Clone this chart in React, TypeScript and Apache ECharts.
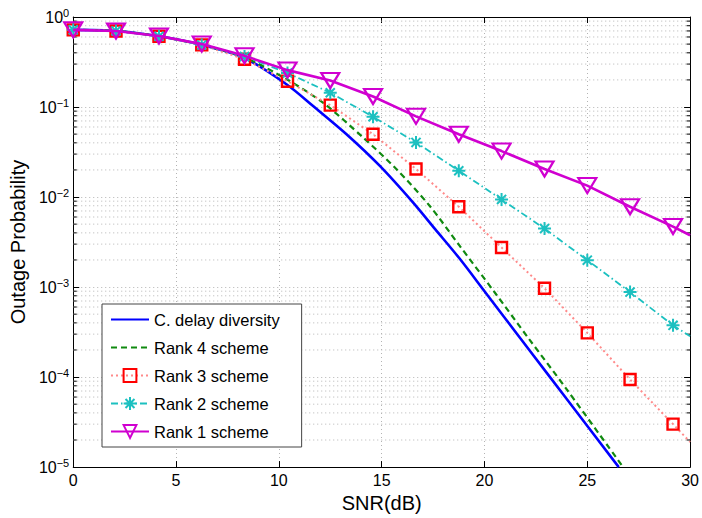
import React, { useEffect, useRef } from "react";
import * as echarts from "echarts";

// SNR points (dB) where the rank schemes are evaluated / marked
const snrMarks = [0, 2.08, 4.17, 6.25, 8.33, 10.42, 12.5, 14.58, 16.67, 18.75, 20.83, 22.92, 25, 27.08, 29.17];
const snrEnd = 30;

const rank1 = [0.72, 0.7, 0.615, 0.5, 0.37, 0.257, 0.197, 0.131, 0.0788, 0.0499, 0.0324, 0.0205, 0.0134, 0.0078, 0.0047];
const rank1End = 0.00376;
const rank2 = [0.72, 0.7, 0.61, 0.49, 0.365, 0.239, 0.144, 0.078, 0.0404, 0.0196, 0.0094, 0.00446, 0.00199, 0.00088, 0.000376];
const rank2End = 0.000284;
const rank3 = [0.72, 0.7, 0.61, 0.49, 0.34, 0.193, 0.105, 0.0499, 0.0205, 0.0078, 0.00275, 0.00097, 0.00031, 0.000094, 0.00003];
const rank3End = 0.000019;

// Cyclic delay diversity curve
const cddSnr = [0, 2.08, 4.17, 6.25, 8.33, 10.4, 11.68, 13.29, 14.9, 16.51, 17.6, 18.77, 20, 22.15, 24, 26.53];
const cddP = [0.72, 0.7, 0.61, 0.49, 0.35, 0.177, 0.102, 0.0499, 0.0223, 0.00878, 0.0044, 0.0021, 0.0009, 0.000204, 0.000057, 0.00001];

// Rank 4 scheme curve
const rank4Snr = [0, 2.08, 4.17, 6.25, 8.33, 10.4, 12.16, 14.1, 15.71, 17.32, 18.77, 20.5, 22.15, 24, 26.74];
const rank4P = [0.72, 0.7, 0.61, 0.49, 0.355, 0.202, 0.111, 0.0458, 0.0205, 0.00805, 0.00292, 0.00087, 0.000268, 0.000073, 0.00001];

const xTicks = [0, 5, 10, 15, 20, 25, 30];
const decades = [-5, -4, -3, -2, -1, 0];
const minorMantissas = [2, 3, 4, 5, 6, 7, 8, 9];

const FONT = "Liberation Sans, Arial, Helvetica, sans-serif";
const GRID_COLOR = "#b4b4b4";

const pairs = (xs: number[], ys: number[]) => xs.map((x, i) => [x, ys[i]]);

const withTail = (ys: number[], tail: number) => [
  ...pairs(snrMarks, ys),
  { value: [snrEnd, tail], symbol: "none" },
];

const minorValues: number[] = [];
decades.slice(0, -1).forEach((d) => {
  minorMantissas.forEach((m) => minorValues.push(m * Math.pow(10, d)));
});

const starPath = "path://M5,0L5,10M0,5L10,5M1.5,1.5L8.5,8.5M1.5,8.5L8.5,1.5";

export default function App() {
  const ref = useRef<HTMLDivElement>(null);

  useEffect(() => {
    if (!ref.current) return;
    const chart = echarts.init(ref.current, null, { renderer: "svg" });

    const yFormatter = (v: number) => {
      const e = Math.round(Math.log10(v));
      return `{b|10}{s|${e === 0 ? "0" : "\u2212" + -e}}`;
    };

    const logAxisBase = {
      type: "log" as const,
      logBase: 10,
      min: Math.pow(10, decades[0]),
      max: Math.pow(10, decades[decades.length - 1]),
      axisLine: { show: true, onZero: false, lineStyle: { color: "#000", width: 1 } },
      axisTick: { show: true, inside: true, length: 6, lineStyle: { color: "#000" } },
      minorTick: { show: false },
    };

    chart.setOption({
      animation: false,
      backgroundColor: "#fff",
      grid: { left: 72, right: 10, top: 17, bottom: 48, containLabel: false },
      xAxis: [
        {
          type: "value",
          min: xTicks[0],
          max: xTicks[xTicks.length - 1],
          interval: 5,
          name: "SNR(dB)",
          nameLocation: "middle",
          nameGap: 21,
          nameTextStyle: { fontFamily: FONT, fontSize: 20, color: "#000" },
          axisLine: { show: true, onZero: false, lineStyle: { color: "#000" } },
          axisTick: { show: true, inside: true, length: 6, lineStyle: { color: "#000" } },
          axisLabel: { fontFamily: FONT, fontSize: 16, color: "#000", margin: 5 },
          splitLine: { show: true, lineStyle: { color: GRID_COLOR, type: [1, 3], width: 1 } },
        },
        {
          type: "value",
          position: "top",
          min: xTicks[0],
          max: xTicks[xTicks.length - 1],
          interval: 5,
          axisLine: { show: true, onZero: false, lineStyle: { color: "#000" } },
          axisTick: { show: true, inside: true, length: 6, lineStyle: { color: "#000" } },
          axisLabel: { show: false },
          splitLine: { show: false },
        },
      ],
      yAxis: [
        {
          ...logAxisBase,
          position: "left",
          name: "Outage Probability",
          nameLocation: "middle",
          nameGap: 38,
          nameTextStyle: { fontFamily: FONT, fontSize: 20, color: "#000" },
          axisLabel: {
            formatter: yFormatter,
            margin: 4,
            rich: {
              b: { fontFamily: FONT, fontSize: 16, color: "#000" },
              s: { fontFamily: FONT, fontSize: 11, color: "#000", padding: [0, 0, 9, 0] },
            },
          },
          splitLine: { show: true, lineStyle: { color: GRID_COLOR, type: [1, 3], width: 1 } },
        },
        {
          ...logAxisBase,
          position: "right",
          axisLabel: { show: false },
          splitLine: { show: false },
        },
      ],
      legend: {
        orient: "vertical",
        left: 102,
        top: 304,
        padding: [7, 22, 7, 8],
        itemGap: 11,
        itemWidth: 38,
        itemHeight: 16,
        backgroundColor: "#fff",
        borderColor: "#444",
        borderWidth: 1,
        borderRadius: 0,
        textStyle: { fontFamily: FONT, fontSize: 16.5, color: "#000", padding: [0, 0, 0, 0] },
        data: [
          { name: "C. delay diversity", itemStyle: { opacity: 0 } },
          { name: "Rank 4 scheme", itemStyle: { opacity: 0 } },
          { name: "Rank 3 scheme" },
          { name: "Rank 2 scheme" },
          { name: "Rank 1 scheme" },
        ],
      },
      series: [
        {
          // minor log gridlines and ticks
          type: "custom",
          silent: true,
          z: 1,
          clip: false,
          encode: { x: 0, y: 1 },
          data: minorValues.map((v) => [xTicks[0], v]),
          renderItem: (_params: any, api: any) => {
            const v = api.value(1);
            const a = api.coord([xTicks[0], v]);
            const b = api.coord([xTicks[xTicks.length - 1], v]);
            return {
              type: "group",
              children: [
                {
                  type: "line",
                  shape: { x1: a[0], y1: a[1], x2: b[0], y2: b[1] },
                  style: { stroke: GRID_COLOR, lineWidth: 1, lineDash: [1, 3] },
                },
                {
                  type: "line",
                  shape: { x1: a[0], y1: a[1], x2: a[0] + 3.5, y2: a[1] },
                  style: { stroke: "#000", lineWidth: 1 },
                },
                {
                  type: "line",
                  shape: { x1: b[0], y1: b[1], x2: b[0] - 3.5, y2: b[1] },
                  style: { stroke: "#000", lineWidth: 1 },
                },
              ],
            };
          },
        },
        {
          name: "C. delay diversity",
          type: "line",
          data: pairs(cddSnr, cddP),
          smooth: 0.3,
          symbol: "none",
          lineStyle: { color: "#0000ff", width: 2.6 },
          itemStyle: { color: "#0000ff" },
          z: 3,
        },
        {
          name: "Rank 4 scheme",
          type: "line",
          data: pairs(rank4Snr, rank4P),
          smooth: 0.3,
          symbol: "none",
          lineStyle: { color: "#108a10", width: 2.2, type: [6, 4] },
          itemStyle: { color: "#108a10" },
          z: 3,
        },
        {
          name: "Rank 3 scheme",
          type: "line",
          data: withTail(rank3, rank3End),
          symbol: "rect",
          symbolSize: 11,
          lineStyle: { color: "#ff8a8a", width: 2, type: [2, 3] },
          itemStyle: { color: "rgba(255,255,255,0)", borderColor: "#ff0000", borderWidth: 2.4 },
          z: 4,
        },
        {
          name: "Rank 2 scheme",
          type: "line",
          data: withTail(rank2, rank2End),
          symbol: starPath,
          symbolSize: 13,
          lineStyle: { color: "#1cc0c0", width: 1.8, type: [7, 3, 1.5, 3] },
          itemStyle: { color: "rgba(255,255,255,0)", borderColor: "#1cc0c0", borderWidth: 2 },
          z: 4,
        },
        {
          name: "Rank 1 scheme",
          type: "line",
          data: withTail(rank1, rank1End),
          symbol: "triangle",
          symbolRotate: 180,
          symbolSize: [18, 15],
          lineStyle: { color: "#d000d0", width: 2.6 },
          itemStyle: { color: "rgba(255,255,255,0)", borderColor: "#d000d0", borderWidth: 2.2 },
          z: 5,
        },
      ],
    });

    return () => chart.dispose();
  }, []);

  return (
    <div
      ref={ref}
      style={{ position: "fixed", left: 0, top: 0, width: 702, height: 518 }}
    />
  );
}
